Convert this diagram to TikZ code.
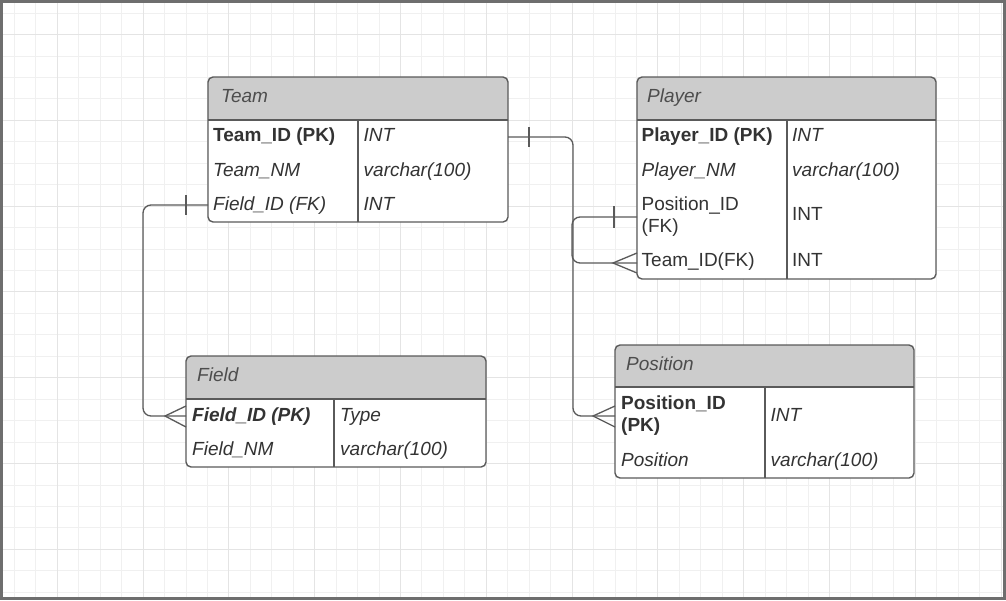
\documentclass[tikz,border=0pt]{standalone}
\usepackage{fontspec}
\setmainfont{Liberation Sans}
\definecolor{linec}{HTML}{5A5A5A}
\definecolor{hdrc}{HTML}{CCCCCC}
\definecolor{txtc}{HTML}{333333}
\definecolor{htxt}{HTML}{4D4D4D}
\definecolor{gridminor}{HTML}{F0F0F0}
\definecolor{gridmajor}{HTML}{E4E4E4}
\definecolor{framec}{HTML}{6E6E6E}
\tikzset{
 cell/.style={anchor=base west, inner sep=0pt, text=txtc, font=\fontsize{19}{22}\selectfont, align=left},
 hdrtext/.style={cell, text=htxt, font=\fontsize{19}{22}\selectfont\itshape},
 itx/.style={font=\fontsize{19}{22}\selectfont\itshape},
 bfx/.style={font=\fontsize{19}{22}\selectfont\bfseries},
 bfitx/.style={font=\fontsize{19}{22}\selectfont\bfseries\itshape},
 tblline/.style={draw=linec, line width=1.4pt},
 conn/.style={draw=linec, line width=1.3pt, rounded corners=8pt},
 tickline/.style={draw=linec, line width=1.3pt},
}
\newcommand\ertable[7]{%
 \fill[white, rounded corners=5pt] (#2,#3) rectangle (#4,#5);
 \begin{scope}
 \clip (#2,#3) rectangle (#4,#6);
 \fill[hdrc, rounded corners=5pt] (#2,#3) rectangle (#4,#5);
 \end{scope}
 \draw[tblline] (#2,#6) -- (#4,#6) (#7,#6) -- (#7,#5);
 \draw[tblline, rounded corners=5pt] (#2,#3) rectangle (#4,#5);
 \path (#2,#3) coordinate (#1-nw) (#4,#5) coordinate (#1-se);
}
\begin{document}
\begin{tikzpicture}[x=1pt,y=-1pt]
\useasboundingbox (0,0) rectangle (1006,600);
\fill[white] (0,0) rectangle (1006,600);
% grid
\foreach \k in {0,...,46} \draw[gridminor, line width=0.8pt] ({14.3+21.45*\k},3) -- ({14.3+21.45*\k},597);
\foreach \k in {0,...,27} \draw[gridminor, line width=0.8pt] (3,{13+21.45*\k}) -- (1003,{13+21.45*\k});
\foreach \k in {2,6,...,46} \draw[gridmajor, line width=0.9pt] ({14.3+21.45*\k},3) -- ({14.3+21.45*\k},597);
\foreach \k in {1,5,...,25} \draw[gridmajor, line width=0.9pt] (3,{13+21.45*\k}) -- (1003,{13+21.45*\k});
\draw[framec, line width=3pt] (1.5,1.5) rectangle (1004.5,598.5);

% tables
\ertable{team}{208}{77}{508}{222}{120}{358}
\ertable{player}{637}{77}{936}{279}{120}{787}
\ertable{field}{186}{356}{486}{467}{399}{334}
\ertable{position}{615}{345}{914}{478}{387}{765}

% Team
\node[hdrtext] (teamH) at (221,102.7) {Team};
\node[cell, bfx] (teamR1a) at (213,141.7) {Team\_ID (PK)};
\node[cell, itx] (teamR1b) at (363.5,141.7) {INT};
\node[cell, itx] (teamR2a) at (213,176) {Team\_NM};
\node[cell, itx] (teamR2b) at (363.5,176) {varchar(100)};
\node[cell, itx] (teamR3a) at (213,210) {Field\_ID (FK)};
\node[cell, itx] (teamR3b) at (363.5,210) {INT};

% Player
\node[hdrtext] (playerH) at (647,102.7) {Player};
\node[cell, bfx] (playerR1a) at (641.5,141.7) {Player\_ID (PK)};
\node[cell, itx] (playerR1b) at (792,141.7) {INT};
\node[cell, itx] (playerR2a) at (641.5,176) {Player\_NM};
\node[cell, itx] (playerR2b) at (792,176) {varchar(100)};
\node[cell] (playerR3a) at (641.5,232) {Position\_ID\\(FK)};
\node[cell] (playerR3b) at (792,220.7) {INT};
\node[cell] (playerR4a) at (641.5,266.7) {Team\_ID(FK)};
\node[cell] (playerR4b) at (792,266.7) {INT};

% Field
\node[hdrtext] (fieldH) at (197,381) {Field};
\node[cell, bfitx] (fieldR1a) at (192,421.7) {Field\_ID (PK)};
\node[cell, itx] (fieldR1b) at (340,421.7) {Type};
\node[cell, itx] (fieldR2a) at (192,455) {Field\_NM};
\node[cell, itx] (fieldR2b) at (340,455) {varchar(100)};

% Position
\node[hdrtext] (positionH) at (626,370) {Position};
\node[cell, bfx] (positionR1a) at (621,431.5) {Position\_ID\\(PK)};
\node[cell, itx] (positionR1b) at (770.5,421.7) {INT};
\node[cell, itx] (positionR2a) at (621,466) {Position};
\node[cell, itx] (positionR2b) at (770.5,466) {varchar(100)};

% connector end points
\coordinate (teamPK) at (508,137);
\coordinate (teamFK) at (208,205);
\coordinate (posPK) at (615,416);
\coordinate (fieldPK) at (186,416);
\coordinate (plPos) at (637,217);
\coordinate (plTeam) at (637,263);
\coordinate (bendA) at (573,137);
\coordinate (bendB) at (143,205);
\coordinate (bendC) at (572,217);

\draw[conn] (teamPK) -- (bendA) |- (posPK);
\draw[conn] (teamFK) -- (bendB) |- (fieldPK);
\draw[conn] (plPos) -- (bendC) |- (plTeam);

% one marks
\draw[tickline] ([shift={(21,-10)}]teamPK) -- ([shift={(21,10)}]teamPK);
\draw[tickline] ([shift={(-22,-10)}]teamFK) -- ([shift={(-22,10)}]teamFK);
\draw[tickline] ([shift={(-23,-11)}]plPos) -- ([shift={(-23,11)}]plPos);
% crow's feet
\draw[tickline] ([shift={(0,-10)}]posPK) -- ([shift={(-22,0)}]posPK) -- ([shift={(0,11)}]posPK);
\draw[tickline] ([shift={(0,-10)}]fieldPK) -- ([shift={(-21,0)}]fieldPK) -- ([shift={(0,11)}]fieldPK);
\draw[tickline] ([shift={(0,-10)}]plTeam) -- ([shift={(-24,0)}]plTeam) -- ([shift={(0,10)}]plTeam);
\end{tikzpicture}
\end{document}
